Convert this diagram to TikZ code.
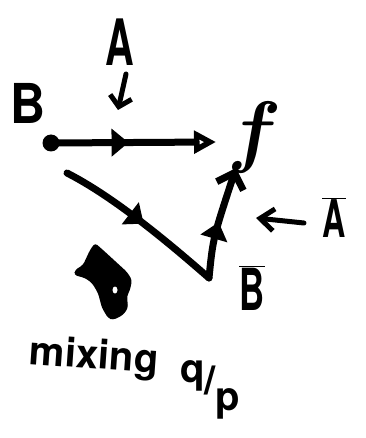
\documentclass[tikz,border=0pt]{standalone}
\usepackage{fontspec}
\usepackage{bm}
\setmainfont{TeX Gyre Heros}
\usetikzlibrary{arrows.meta,decorations.markings}
\tikzset{
  ln/.style={line width=7pt},
  thin stroke/.style={line width=5pt},
  lbl/.style={inner sep=0pt, font=\bfseries},
  midarrow/.style={postaction={decorate}, decoration={markings, mark=at position #1 with {\arrow{Triangle[length=17pt,width=27pt]}}}}
}
\begin{document}
\begin{tikzpicture}[x=1pt,y=-1pt, line cap=round, line join=round]
\useasboundingbox (0,0) rectangle (365,438);
% labels
\node[lbl, font=\bfseries\fontsize{64}{64}\selectfont] (A) at (120,42) {\scalebox{0.62}[1]{A}};
\node[lbl, font=\bfseries\fontsize{55}{55}\selectfont] (Bl) at (28,103) {\scalebox{0.88}[1]{B}};
\node[lbl] (f) at (255,138) {\scalebox{8}{$\bm{f}$}};
\node[lbl, font=\bfseries\fontsize{52}{52}\selectfont] (Abar) at (334,218) {\scalebox{0.62}[1]{$\overline{\mbox{\bfseries A}}$}};
\node[lbl, font=\bfseries\fontsize{58}{58}\selectfont] (Bbar) at (252,288) {\scalebox{0.6}[1]{$\overline{\mbox{\bfseries B}}$}};
\node[lbl, font=\bfseries\fontsize{40}{40}\selectfont, rotate=-4] (mix) at (94,358) {mixing};
\node[lbl, font=\bfseries\fontsize{40}{40}\selectfont] (qp) at (210,390) {\raisebox{12pt}{q}/\raisebox{-16pt}{p}};
% points
\node[circle, fill, minimum size=17pt, inner sep=0pt] (dot) at (51,143) {};
\coordinate (hend) at (216,142);
\coordinate (cstart) at (67,173);
\coordinate (V) at (209,278);
\coordinate (vtop) at (236,168);
\coordinate (a1) at (126,74);
\coordinate (a2) at (118,110);
\coordinate (la1) at (304,223);
\coordinate (la2) at (256,218);
% connectors
\draw[ln, midarrow=0.47, -{Triangle[open,length=22pt,width=22pt]}] (dot.center) -- (hend);
\draw[ln, midarrow=0.52] (cstart) .. controls (110,195) and (160,235) .. (V);
\draw[ln, midarrow=0.5, -{Straight Barb[length=14pt,width=28pt]}] (V) .. controls (213,238) .. (vtop);
\draw[thin stroke, -{Straight Barb[length=10pt,width=22pt]}] (a1) -- (a2);
\draw[thin stroke, -{Straight Barb[length=14pt,width=22pt]}] (la1) -- (la2);
% fat arrow
\fill[rounded corners=3pt] (95,243) -- (103,250) -- (127,272) -- (132,280) -- (130,290) -- (127,296) -- (128,308) -- (123,315) -- (113,320) -- (108,318) -- (102,308) -- (98,293) -- (92,283) -- (85,278) -- (74,275) -- (75,270) -- (83,265) -- (90,250) -- cycle;
\fill[white] (115,290) ellipse (2.5pt and 3.5pt);
\end{tikzpicture}
\end{document}
